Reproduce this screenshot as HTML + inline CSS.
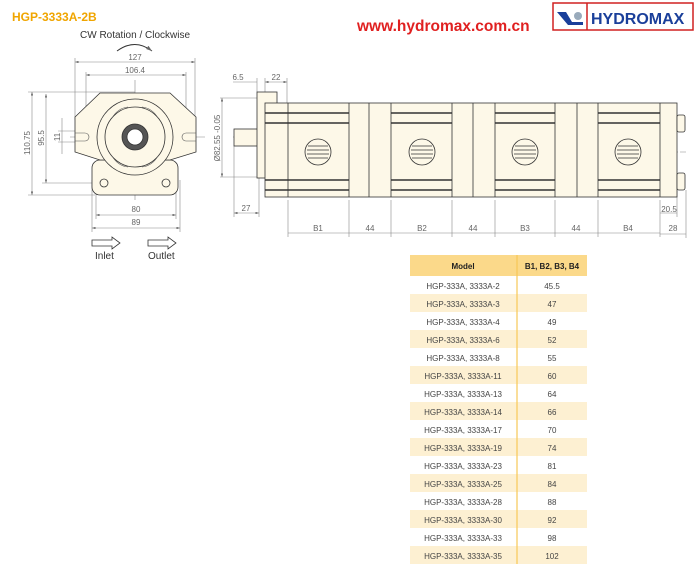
<!DOCTYPE html>
<html><head><meta charset="utf-8"><style>
body{margin:0;background:#fff;width:700px;height:574px;overflow:hidden;font-family:"Liberation Sans",sans-serif;}
svg{position:absolute;left:0;top:0}
</style></head><body>
<svg width="700" height="574" viewBox="0 0 700 574" font-family="Liberation Sans, sans-serif">
<defs>
<marker id="a" markerWidth="6" markerHeight="4" refX="6" refY="2" orient="auto-start-reverse"><path d="M0,0L6,2L0,4z" fill="#666"/></marker>
</defs>
<text x="12" y="21" font-size="12" font-weight="bold" fill="#f0a500">HGP-3333A-2B</text>
<text x="80" y="38" font-size="10" fill="#333">CW Rotation / Clockwise</text>
<path d="M117,51 Q135,38 152,51" fill="none" stroke="#333" stroke-width="1" marker-end="url(#a)"/>
<text x="357" y="31" font-size="15.5" font-weight="bold" fill="#e02020">www.hydromax.com.cn</text>
<rect x="553" y="3" width="140" height="27" fill="#fff" stroke="#d02020" stroke-width="1.5"/>
<line x1="587" y1="3" x2="587" y2="30" stroke="#d02020" stroke-width="1.5"/>
<path d="M557,12 L566,12 L572,22 L583,22 L583,25 L568,25z" fill="#1a3f9a"/>
<circle cx="578" cy="16" r="4" fill="#9ab"/>
<text x="591" y="24" font-size="16" font-weight="bold" fill="#1a3f9a">HYDROMAX</text>

<g stroke="#888" stroke-width="0.6" fill="none">
<!-- front view dims -->
<line x1="75" y1="62" x2="195" y2="62" marker-start="url(#a)" marker-end="url(#a)"/>
<line x1="75" y1="58" x2="75" y2="120"/><line x1="195" y1="58" x2="195" y2="120"/>
<line x1="86" y1="75" x2="186" y2="75" marker-start="url(#a)" marker-end="url(#a)"/>
<line x1="86" y1="72" x2="86" y2="140"/><line x1="186" y1="72" x2="186" y2="140"/>
<line x1="32" y1="92" x2="32" y2="195" marker-start="url(#a)" marker-end="url(#a)"/>
<line x1="28" y1="92" x2="135" y2="92"/><line x1="28" y1="195" x2="95" y2="195"/>
<line x1="46" y1="94" x2="46" y2="183" marker-start="url(#a)" marker-end="url(#a)"/>
<line x1="42" y1="183" x2="100" y2="183"/>
<line x1="62" y1="118" x2="62" y2="154"/>
<line x1="58" y1="131" x2="80" y2="131"/><line x1="58" y1="142" x2="80" y2="142"/>
<line x1="96" y1="215" x2="176" y2="215" marker-start="url(#a)" marker-end="url(#a)"/>
<line x1="92" y1="228" x2="180" y2="228" marker-start="url(#a)" marker-end="url(#a)"/>
<line x1="96" y1="170" x2="96" y2="219"/><line x1="176" y1="170" x2="176" y2="219"/>
<line x1="92" y1="180" x2="92" y2="232"/><line x1="180" y1="180" x2="180" y2="232"/>
<line x1="135" y1="80" x2="135" y2="200"/><line x1="70" y1="137" x2="205" y2="137"/>
<line x1="222" y1="98" x2="222" y2="177" marker-start="url(#a)" marker-end="url(#a)"/>
<!-- side dims -->
<line x1="233" y1="82" x2="257" y2="82"/><line x1="265" y1="82" x2="287" y2="82" marker-start="url(#a)" marker-end="url(#a)"/>
<line x1="257" y1="78" x2="257" y2="92"/><line x1="265" y1="78" x2="265" y2="92"/><line x1="287" y1="78" x2="287" y2="103"/>
<line x1="234" y1="213" x2="259" y2="213" marker-start="url(#a)" marker-end="url(#a)"/>
<line x1="234" y1="146" x2="234" y2="217"/><line x1="259" y1="178" x2="259" y2="217"/>
<line x1="220" y1="98" x2="262" y2="98"/><line x1="220" y1="177" x2="262" y2="177"/>
<line x1="300" y1="128" x2="300" y2="174"/>
<line x1="660" y1="213" x2="677" y2="213"/><line x1="660" y1="234" x2="686" y2="234"/>
<line x1="677" y1="190" x2="677" y2="217"/><line x1="686" y1="190" x2="686" y2="238"/>
<line x1="233" y1="137" x2="336" y2="137" stroke-dasharray="8,2,2,2"/>
<line x1="296" y1="152" x2="686" y2="152" stroke-dasharray="10,2,2,2"/>
</g>
<g stroke="#888" stroke-width="0.6">
<line x1="288" y1="233" x2="660" y2="233"/>
<line x1="288" y1="200" x2="288" y2="237"/><line x1="349" y1="200" x2="349" y2="237"/><line x1="391" y1="200" x2="391" y2="237"/>
<line x1="452" y1="200" x2="452" y2="237"/><line x1="495" y1="200" x2="495" y2="237"/><line x1="555" y1="200" x2="555" y2="237"/>
<line x1="598" y1="200" x2="598" y2="237"/><line x1="660" y1="200" x2="660" y2="237"/>
</g>
<g font-size="8" fill="#666" text-anchor="middle">
<text x="135" y="60">127</text><text x="135" y="73">106.4</text>
<text x="30" y="143" transform="rotate(-90 30 143)">110.75</text>
<text x="44" y="138" transform="rotate(-90 44 138)">95.5</text>
<text x="60" y="137" transform="rotate(-90 60 137)">11</text>
<text x="136" y="212">80</text><text x="136" y="225">89</text>
<text x="220" y="138" transform="rotate(-90 220 138)">Ø82.55 -0.05</text>
<text x="238" y="80">6.5</text><text x="276" y="80">22</text>
<text x="246" y="211">27</text>
<text x="298" y="167" transform="rotate(-90 298 167)">15.7</text>
<text x="318" y="231">B1</text><text x="370" y="231">44</text><text x="422" y="231">B2</text><text x="473" y="231">44</text>
<text x="525" y="231">B3</text><text x="576" y="231">44</text><text x="628" y="231">B4</text><text x="673" y="231">28</text>
<text x="669" y="212">20.5</text>
</g>
<!-- front view body -->
<g stroke="#333" stroke-width="0.8" fill="#fdf8e8">
<rect x="92" y="160" width="86" height="35" rx="8"/>
<path d="M100,93 L170,93 L196,117 L196,152 L170,160 L100,160 L75,152 L75,117 Z"/>
<circle cx="135" cy="137" r="38"/>
<circle cx="135" cy="137" r="30"/>
<circle cx="135" cy="137" r="13" fill="#555"/>
<circle cx="135" cy="137" r="8" fill="#fff"/>
<circle cx="104" cy="183" r="4"/><circle cx="166" cy="183" r="4"/>
</g>
<g stroke="#555" stroke-width="0.6" fill="none">
<path d="M112,118 Q118,108 128,107"/><path d="M142,107 Q152,108 158,118"/><path d="M112,156 Q118,166 128,167"/><path d="M142,167 Q152,166 158,156"/>
<path d="M75,133 L85,133 A4,4 0 0 1 85,141 L75,141"/><path d="M196,133 L186,133 A4,4 0 0 0 186,141 L196,141"/>
</g>
<path d="M92,240 L112,240 L112,237 L120,243 L112,249 L112,246 L92,246Z" fill="#fff" stroke="#333" stroke-width="0.8"/>
<path d="M148,240 L168,240 L168,237 L176,243 L168,249 L168,246 L148,246Z" fill="#fff" stroke="#333" stroke-width="0.8"/>
<text x="95" y="259" font-size="10" fill="#333">Inlet</text>
<text x="148" y="259" font-size="10" fill="#333">Outlet</text>
<!-- side view -->
<g stroke="#333" stroke-width="0.8" fill="#fdf8e8">
<rect x="234" y="129" width="24" height="17"/>
<rect x="257" y="92" width="20" height="86"/>
<rect x="265" y="103" width="412" height="94"/>
<rect x="677" y="115" width="8" height="17" rx="2"/><rect x="677" y="173" width="8" height="17" rx="2"/>
</g>
<g stroke="#333" stroke-width="0.8">
<line x1="288" y1="103" x2="288" y2="197"/><line x1="349" y1="103" x2="349" y2="197"/><line x1="369" y1="103" x2="369" y2="197"/>
<line x1="391" y1="103" x2="391" y2="197"/><line x1="452" y1="103" x2="452" y2="197"/><line x1="473" y1="103" x2="473" y2="197"/>
<line x1="495" y1="103" x2="495" y2="197"/><line x1="555" y1="103" x2="555" y2="197"/><line x1="577" y1="103" x2="577" y2="197"/>
<line x1="598" y1="103" x2="598" y2="197"/><line x1="660" y1="103" x2="660" y2="197"/>
</g>
<g stroke="#333" stroke-width="1.4">
<line x1="265" y1="113" x2="349" y2="113"/><line x1="265" y1="123" x2="349" y2="123"/><line x1="265" y1="180" x2="349" y2="180"/><line x1="265" y1="190" x2="349" y2="190"/>
<line x1="391" y1="113" x2="452" y2="113"/><line x1="391" y1="123" x2="452" y2="123"/><line x1="391" y1="180" x2="452" y2="180"/><line x1="391" y1="190" x2="452" y2="190"/>
<line x1="495" y1="113" x2="555" y2="113"/><line x1="495" y1="123" x2="555" y2="123"/><line x1="495" y1="180" x2="555" y2="180"/><line x1="495" y1="190" x2="555" y2="190"/>
<line x1="598" y1="113" x2="660" y2="113"/><line x1="598" y1="123" x2="660" y2="123"/><line x1="598" y1="180" x2="660" y2="180"/><line x1="598" y1="190" x2="660" y2="190"/>
</g>
<g stroke="#333" stroke-width="0.8" fill="#fdf8e8">
<circle cx="318" cy="152" r="13"/><circle cx="422" cy="152" r="13"/><circle cx="525" cy="152" r="13"/><circle cx="628" cy="152" r="13"/>
</g>
<g stroke="#333" stroke-width="0.8">
<path d="M308,146h20M307,150h22M307,154h22M308,158h20"/>
<path d="M412,146h20M411,150h22M411,154h22M412,158h20"/>
<path d="M515,146h20M514,150h22M514,154h22M515,158h20"/>
<path d="M618,146h20M617,150h22M617,154h22M618,158h20"/>
</g>
<!-- table -->
<rect x="410" y="255" width="177" height="21" fill="#fbd98a"/>
<g fill="#fdf0d2">
<rect x="410" y="294" width="177" height="18"/><rect x="410" y="330" width="177" height="18"/><rect x="410" y="366" width="177" height="18"/>
<rect x="410" y="402" width="177" height="18"/><rect x="410" y="438" width="177" height="18"/><rect x="410" y="474" width="177" height="18"/>
<rect x="410" y="510" width="177" height="18"/><rect x="410" y="546" width="177" height="18"/>
</g>
<line x1="517" y1="255" x2="517" y2="564" stroke="#f7c857" stroke-width="1.2"/>
<g font-size="8" fill="#222" font-weight="bold" text-anchor="middle">
<text x="463" y="269">Model</text><text x="552" y="269">B1, B2, B3, B4</text>
</g>
<g font-size="8" fill="#444" text-anchor="middle">
<text x="463" y="289">HGP-333A, 3333A-2</text><text x="552" y="289">45.5</text>
<text x="463" y="307">HGP-333A, 3333A-3</text><text x="552" y="307">47</text>
<text x="463" y="325">HGP-333A, 3333A-4</text><text x="552" y="325">49</text>
<text x="463" y="343">HGP-333A, 3333A-6</text><text x="552" y="343">52</text>
<text x="463" y="361">HGP-333A, 3333A-8</text><text x="552" y="361">55</text>
<text x="463" y="379">HGP-333A, 3333A-11</text><text x="552" y="379">60</text>
<text x="463" y="397">HGP-333A, 3333A-13</text><text x="552" y="397">64</text>
<text x="463" y="415">HGP-333A, 3333A-14</text><text x="552" y="415">66</text>
<text x="463" y="433">HGP-333A, 3333A-17</text><text x="552" y="433">70</text>
<text x="463" y="451">HGP-333A, 3333A-19</text><text x="552" y="451">74</text>
<text x="463" y="469">HGP-333A, 3333A-23</text><text x="552" y="469">81</text>
<text x="463" y="487">HGP-333A, 3333A-25</text><text x="552" y="487">84</text>
<text x="463" y="505">HGP-333A, 3333A-28</text><text x="552" y="505">88</text>
<text x="463" y="523">HGP-333A, 3333A-30</text><text x="552" y="523">92</text>
<text x="463" y="541">HGP-333A, 3333A-33</text><text x="552" y="541">98</text>
<text x="463" y="559">HGP-333A, 3333A-35</text><text x="552" y="559">102</text>
</g>
</svg>
</body></html>
